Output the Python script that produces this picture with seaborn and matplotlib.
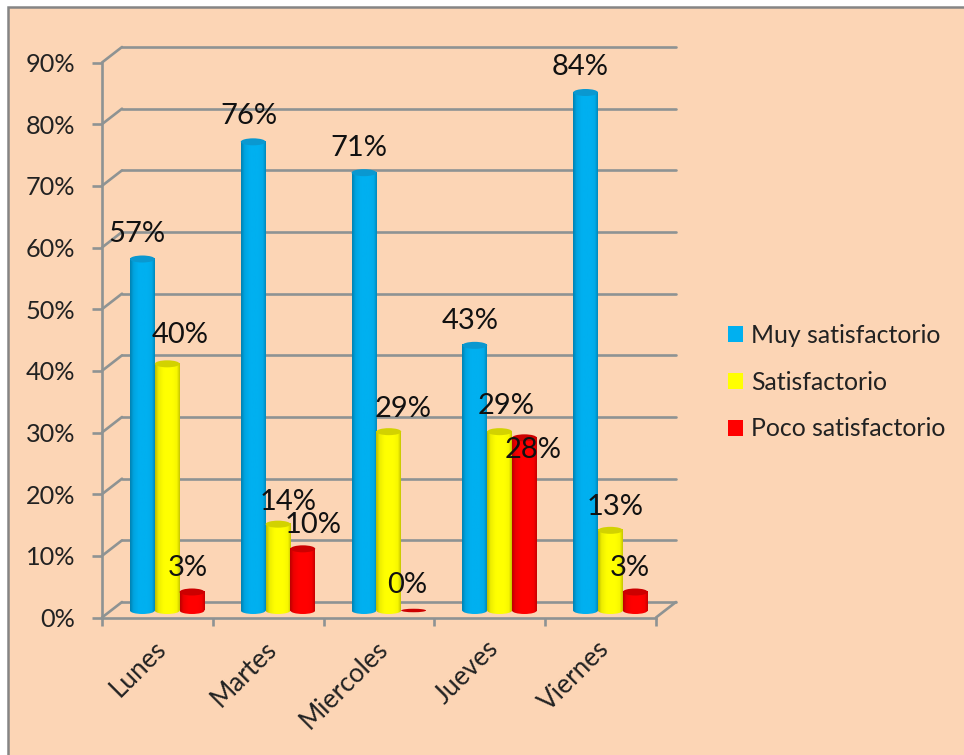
import numpy as np
import pandas as pd
import matplotlib
matplotlib.use("Agg")
import matplotlib.pyplot as plt
from matplotlib.patches import Ellipse, Rectangle, ConnectionPatch
from matplotlib.transforms import ScaledTranslation
from matplotlib.colors import to_rgb
import seaborn as sns

# ---- data -------------------------------------------------------------
dias = ["Lunes", "Martes", "Miercoles", "Jueves", "Viernes"]
muy_satisfactorio = [57, 76, 71, 43, 84]
satisfactorio = [40, 14, 29, 29, 13]
poco_satisfactorio = [3, 10, 0, 28, 3]
series_names = ["Muy satisfactorio", "Satisfactorio", "Poco satisfactorio"]
y_ticks = list(range(0, 100, 10))

# ---- styling ----------------------------------------------------------
colors = ["#00B0F0", "#FFFF00", "#FF0000"]
top_colors = ["#0A98D0", "#D2D200", "#CC0000"]
PEACH = "#FCD5B5"
GRID = "#8E9393"
W, H = 964, 755
sns.set_theme(style="white")
plt.rcParams["font.family"] = ["Lato", "DejaVu Sans"]

df = pd.DataFrame({
    "dia": dias * 3,
    "serie": np.repeat(series_names, len(dias)),
    "valor": muy_satisfactorio + satisfactorio + poco_satisfactorio,
})

fig = plt.figure(figsize=(W / 100, H / 100), dpi=100, facecolor="white")
fig.add_artist(Rectangle((8 / W, -0.1), 1, 1.1 - 7.5 / H, transform=fig.transFigure,
                         facecolor=PEACH, edgecolor="#858585", linewidth=1.8, zorder=-5))
ax = fig.add_axes([102 / W, 1 - 617.5 / H, (656 - 102) / W, 555 / H], zorder=2)
ax.patch.set_alpha(0)

sns.barplot(data=df, x="dia", y="valor", hue="serie", order=dias, hue_order=series_names,
            palette=colors, width=0.672, gap=0, dodge=True, saturation=1,
            linewidth=0, ax=ax, legend=True, zorder=3)
ax.set_xlim(-0.5, 4.5)
ax.set_ylim(0, 90)

def shift(dx, dy):
    return ScaledTranslation(dx / 100, dy / 100, fig.dpi_scale_trans)

back = ax.transData + shift(20, 15.5)
bar_tr = ax.transData + shift(9.8, 7)

# back wall and side/floor lines
LW = 1.9
xl, xr = -0.5, 4.5
for v in y_ticks:
    ax.plot([xl, xr], [v, v], color=GRID, lw=LW, transform=back, clip_on=False, zorder=1)
    fig.add_artist(ConnectionPatch((xl, v), (xl, v), coordsA=ax.transData, coordsB=back,
                                   color=GRID, lw=LW, zorder=1))
fig.add_artist(ConnectionPatch((xr, 0), (xr, 0), coordsA=ax.transData, coordsB=back,
                               color=GRID, lw=LW, zorder=1))

# front axes
for s in ["top", "right"]:
    ax.spines[s].set_visible(False)
for s in ["left", "bottom"]:
    ax.spines[s].set_color(GRID)
    ax.spines[s].set_linewidth(LW)
ax.set_xlabel("")
ax.set_ylabel("")
ax.set_yticks(y_ticks)
ax.set_yticklabels([f"{v}%" for v in y_ticks], fontsize=18.2, color="#222222")
ax.tick_params(axis="y", left=True, length=7, width=LW, color=GRID, pad=12)
ax.set_xticks(np.arange(-0.5, 5, 1))
ax.set_xticklabels([])
ax.set_xticks(np.arange(5), minor=True)
ax.set_xticklabels(dias, minor=True, rotation=45, ha="right", rotation_mode="anchor",
                   fontsize=18.8, color="#222222")
ax.tick_params(axis="x", which="major", bottom=True, length=6, width=LW, color=GRID)
ax.tick_params(axis="x", which="minor", bottom=False, length=0, pad=14)
for lab in ax.get_xticklabels(minor=True):
    lab.set_transform(lab.get_transform() + shift(-4, 1))

# cylinder shading
def gradient(c):
    r = np.array(to_rgb(c))
    stops = [0.74, 0.93, 1.0, 1.0, 0.97, 0.78]
    pos = [0, 0.14, 0.35, 0.7, 0.88, 1]
    t = np.linspace(0, 1, 64)
    f = np.interp(t, pos, stops)
    return (r[None, None, :] * f[None, :, None])

ell_h = 90 / 555 * 7.0
bars_by_series = [c for c in ax.containers]
for k, cont in enumerate(bars_by_series):
    g = gradient(colors[k])
    for bar in cont:
        x0, w, h = bar.get_x(), bar.get_width(), bar.get_height()
        bar.set_transform(bar_tr)
        z = 3 + k
        bar.set_zorder(z)
        if h > 0:
            base = Ellipse((x0 + w / 2, 0), w, ell_h, facecolor="none", edgecolor="none",
                           transform=bar_tr)
            ax.add_patch(base)
            bim = ax.imshow(g, extent=(x0, x0 + w, -ell_h, ell_h), aspect="auto",
                            interpolation="bilinear", transform=bar_tr, zorder=z, clip_on=True)
            bim.set_clip_path(base)
            im = ax.imshow(g, extent=(x0, x0 + w, 0, h), aspect="auto",
                           interpolation="bilinear", transform=bar_tr, zorder=z, clip_on=False)
            ax.add_patch(Ellipse((x0 + w / 2, h), w, ell_h, facecolor=top_colors[k],
                                 edgecolor="none", transform=bar_tr, zorder=z + 0.1, clip_on=False))
        else:
            ax.add_patch(Ellipse((x0 + w / 2, h), w, ell_h * 0.5, facecolor=top_colors[k],
                                 edgecolor="none", transform=bar_tr, zorder=z + 0.1, clip_on=False))
ax.set_xlim(-0.5, 4.5)
ax.set_ylim(0, 90)

# value labels (pixel nudges relative to each bar's top, per series)
nudges = [
    [(-5, 26), (-4, 26), (-5, 25), (-5, 25), (-5, 26)],
    [(13, 29), (10, 23), (14, 23), (7, 26), (5, 24)],
    [(-4, 25), (10, 24), (-6, 26), (9, -12), (-5, 25)],
]
for k, cont in enumerate(bars_by_series):
    for i, bar in enumerate(cont):
        h = bar.get_height()
        xc = bar.get_x() + bar.get_width() / 2
        ax.annotate(f"{int(h)}%", (xc, h), xycoords=bar_tr,
                    xytext=(nudges[k][i][0] * 0.72, (nudges[k][i][1] - 0.5) * 0.72),
                    textcoords="offset points", ha="center", va="center",
                    fontsize=21, color="#111111", zorder=10, annotation_clip=False)

# legend
handles, labels = ax.get_legend_handles_labels()
ax.legend(handles, labels, loc="center left", bbox_to_anchor=(728 / W, 1 - 382 / H),
          bbox_transform=fig.transFigure, frameon=False, fontsize=17.9, labelcolor="#222222",
          handlelength=0.62, handleheight=0.62, handletextpad=0.3, labelspacing=0.96,
          borderpad=0, borderaxespad=0)

fig.savefig("out.png", dpi=100, facecolor=fig.get_facecolor())
